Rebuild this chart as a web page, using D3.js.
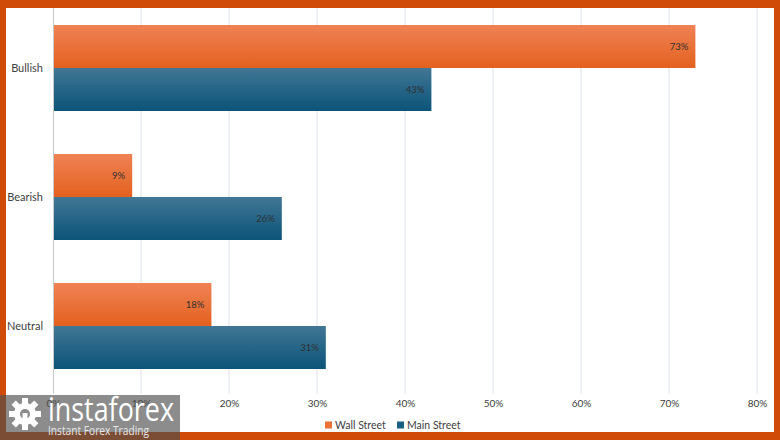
<!DOCTYPE html>
<html>
<head>
<meta charset="utf-8">
<script src="https://cdn.jsdelivr.net/npm/d3@7"></script>
<style>
  body { margin: 0; background: #ffffff; }
  svg { display: block; }
  text { font-family: Lato, "Open Sans", sans-serif; }
</style>
</head>
<body>
<div id="chart"></div>
<script>
// data
var categories = ['Bullish', 'Bearish', 'Neutral'];
var seriesNames = ['Wall Street', 'Main Street'];
var wallStreet = [73, 9, 18];
var mainStreet = [43, 26, 31];
var xTicks = [0, 10, 20, 30, 40, 50, 60, 70, 80];

var svgWidth = 780;
var svgHeight = 440;

var margin = { top: 3.5, right: 23, bottom: 49.5, left: 53 };
var width = svgWidth - margin.left - margin.right;
var height = svgHeight - margin.top - margin.bottom;

var svg = d3.select('#chart').append('svg')
  .attr('width', svgWidth)
  .attr('height', svgHeight);

// gradients for bars
var defs = svg.append('defs');
function grad(id, top, bottom) {
  var g = defs.append('linearGradient').attr('id', id)
    .attr('x1', 0).attr('y1', 0).attr('x2', 0).attr('y2', 1);
  g.append('stop').attr('offset', '0%').attr('stop-color', top);
  g.append('stop').attr('offset', '100%').attr('stop-color', bottom);
}
grad('gOrange', '#ef8254', '#e4611f');
grad('gBlue', '#417696', '#0b5478');

var colors = ['url(#gOrange)', 'url(#gBlue)'];
var legendColors = ['#ec7236', '#17607f'];

svg.append('rect').attr('width', svgWidth).attr('height', svgHeight).attr('fill', '#ffffff');

var chartGroup = svg.append('g')
  .attr('transform', `translate(${margin.left}, ${margin.top})`);

var xScale = d3.scaleLinear().domain([0, 80]).range([0, width]);
var yScale = d3.scaleBand().domain(categories).range([0, height])
  .paddingInner(1 / 3).paddingOuter(1 / 6);
var subScale = d3.scaleBand().domain(seriesNames).range([0, yScale.bandwidth()]);

// gridlines
chartGroup.append('g')
  .selectAll('line')
  .data(xTicks.slice(1))
  .enter()
  .append('line')
  .attr('x1', d => xScale(d)).attr('x2', d => xScale(d))
  .attr('y1', 0).attr('y2', height + 3)
  .attr('stroke', '#d8e1ec').attr('stroke-width', 1);

// x axis labels
var xAxis = chartGroup.append('g')
  .attr('transform', `translate(0, ${height})`)
  .call(d3.axisBottom(xScale).tickValues(xTicks).tickFormat(d => d + '%').tickSize(0).tickPadding(9));
xAxis.select('.domain').remove();
xAxis.selectAll('text').attr('font-size', '10px').attr('fill', '#404040')
  .style('font-family', 'Lato, sans-serif');

// bars
var rows = categories.map(function (c, i) {
  return { cat: c, values: [wallStreet[i], mainStreet[i]] };
});

var groups = chartGroup.selectAll('.cat')
  .data(rows)
  .enter()
  .append('g')
  .attr('transform', d => `translate(0, ${yScale(d.cat)})`);

groups.selectAll('rect')
  .data(d => d.values.map((v, j) => ({ name: seriesNames[j], value: v, j: j })))
  .enter()
  .append('rect')
  .attr('x', 0)
  .attr('y', d => subScale(d.name))
  .attr('width', d => xScale(d.value))
  .attr('height', subScale.bandwidth())
  .attr('fill', d => colors[d.j]);

groups.selectAll('.lbl')
  .data(d => d.values.map((v, j) => ({ name: seriesNames[j], value: v, j: j })))
  .enter()
  .append('text')
  .attr('x', d => xScale(d.value) - 7)
  .attr('y', d => subScale(d.name) + subScale.bandwidth() / 2)
  .attr('dy', '0.35em')
  .attr('text-anchor', 'end')
  .attr('font-size', '9.5px')
  .attr('fill', '#303030')
  .text(d => d.value + '%');

// y axis
var yAxis = chartGroup.append('g')
  .call(d3.axisLeft(yScale).tickSize(0).tickPadding(10));
yAxis.select('.domain').attr('stroke', '#c8c8c8').attr('d', `M0.5,${yScale.range()[0]}V${height + 3}`);
yAxis.selectAll('text').attr('font-size', '11px').attr('fill', '#404040')
  .style('font-family', 'Lato, sans-serif');

// legend
var legend = svg.append('g').attr('transform', 'translate(325, 425)');
var legendX = [0, 72];
seriesNames.forEach(function (n, i) {
  var g = legend.append('g').attr('transform', `translate(${legendX[i]}, 0)`);
  g.append('rect').attr('x', 0).attr('y', -3.5).attr('width', 7).attr('height', 7)
    .attr('fill', legendColors[i]);
  g.append('text').attr('x', 10).attr('y', 0).attr('dy', '0.35em')
    .attr('font-size', '10.5px').attr('fill', '#404040').text(n);
});

// frame
var b = '#d04a08';
svg.append('rect').attr('x', 0).attr('y', 0).attr('width', svgWidth).attr('height', 8).attr('fill', b);
svg.append('rect').attr('x', 0).attr('y', 0).attr('width', 6).attr('height', svgHeight).attr('fill', b);
svg.append('rect').attr('x', 774).attr('y', 0).attr('width', 6).attr('height', svgHeight).attr('fill', b);
svg.append('rect').attr('x', 0).attr('y', 432).attr('width', svgWidth).attr('height', 8).attr('fill', b);

// watermark
var logo = svg.append('g');
logo.append('rect').attr('x', 0).attr('y', 395).attr('width', 180).attr('height', 45)
  .attr('fill', 'rgba(78,78,78,0.65)');
var gear = logo.append('g').attr('transform', 'translate(25, 414)').attr('fill', '#ffffff');
for (var k = 0; k < 8; k++) {
  gear.append('rect').attr('x', -3).attr('y', -16).attr('width', 6).attr('height', 7)
    .attr('transform', `rotate(${k * 45})`);
}
gear.append('circle').attr('r', 11);
gear.append('circle').attr('r', 5).attr('fill', '#8a8a8a');
gear.append('rect').attr('x', -2.5).attr('y', -1).attr('width', 5).attr('height', 17).attr('fill', '#ffffff');
logo.append('text').attr('x', 48).attr('y', 421).attr('font-size', '32px')
  .attr('textLength', 126).attr('lengthAdjust', 'spacingAndGlyphs')
  .attr('fill', '#ffffff').style('font-family', '"Open Sans", sans-serif').text('instaforex');
logo.append('text').attr('x', 48).attr('y', 435).attr('font-size', '12px')
  .attr('textLength', 101).attr('lengthAdjust', 'spacingAndGlyphs')
  .attr('fill', '#e6e6e6').style('font-family', '"Open Sans", sans-serif').text('Instant Forex Trading');
</script>
</body>
</html>
